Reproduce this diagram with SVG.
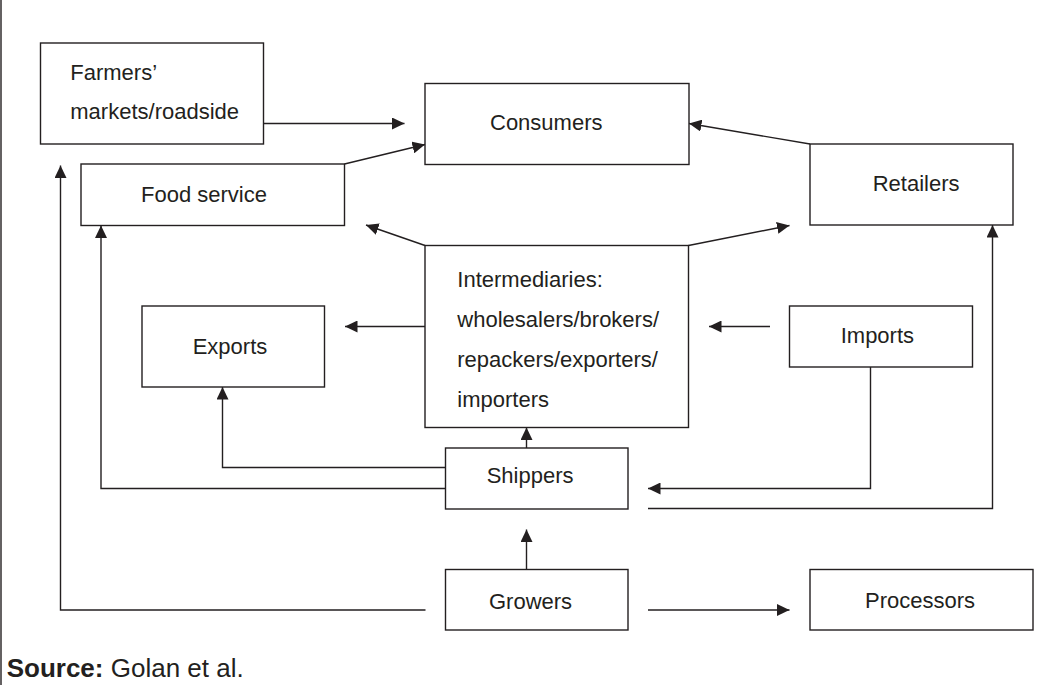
<svg xmlns="http://www.w3.org/2000/svg" width="1047" height="685" viewBox="0 0 1047 685">
<defs>
<marker id="ah" markerUnits="userSpaceOnUse" markerWidth="13" markerHeight="12" refX="12.5" refY="6" orient="auto">
<path d="M0,0 L12.5,6 L0,12 z" fill="#231f20"/>
</marker>
<style>
.box{fill:#fff;stroke:#231f20;stroke-width:1.4}
.lbl{font-family:"Liberation Sans",Arial,sans-serif;font-size:22px;fill:#231f20}
.src{font-family:"Liberation Sans",Arial,sans-serif;font-size:26px;fill:#231f20}
.con path{fill:none;stroke:#231f20;stroke-width:1.4}
.arr{marker-end:url(#ah)}
</style>
</defs>
<rect width="1047" height="685" fill="#fff"/>
<line x1="1" y1="0" x2="1" y2="685" stroke="#231f20" stroke-width="1.4"/>

<g id="farmers">
<rect class="box" x="40.5" y="43" width="223" height="101"/>
<text class="lbl" x="70.3" y="80">Farmers’</text>
<text class="lbl" x="70.3" y="119.3">markets/roadside</text>
</g>
<g id="consumers">
<rect class="box" x="425" y="83.5" width="264" height="81"/>
<text class="lbl" x="490" y="130">Consumers</text>
</g>
<g id="foodservice">
<rect class="box" x="81" y="164" width="263.5" height="61.5"/>
<text class="lbl" x="141" y="202">Food service</text>
</g>
<g id="retailers">
<rect class="box" x="810" y="144" width="203" height="81"/>
<text class="lbl" x="872.7" y="190.7">Retailers</text>
</g>
<g id="intermediaries">
<rect class="box" x="425" y="245.5" width="263.5" height="182"/>
<text class="lbl" x="457.3" y="287.3">Intermediaries:</text>
<text class="lbl" x="457.3" y="327.3">wholesalers/brokers/</text>
<text class="lbl" x="457.3" y="367.3">repackers/exporters/</text>
<text class="lbl" x="457.3" y="406.7">importers</text>
</g>
<g id="exports">
<rect class="box" x="142" y="306" width="182.5" height="81"/>
<text class="lbl" x="192.7" y="354.3">Exports</text>
</g>
<g id="imports">
<rect class="box" x="789.5" y="306" width="183" height="61"/>
<text class="lbl" x="840.7" y="343.3">Imports</text>
</g>
<g id="shippers">
<rect class="box" x="445.5" y="448" width="182.5" height="61"/>
<text class="lbl" x="486.7" y="483.3">Shippers</text>
</g>
<g id="growers">
<rect class="box" x="445.5" y="569.5" width="182.5" height="60.5"/>
<text class="lbl" x="489" y="609">Growers</text>
</g>
<g id="processors">
<rect class="box" x="810" y="569.5" width="223" height="60.5"/>
<text class="lbl" x="865" y="607.7">Processors</text>
</g>

<g id="connectors" class="con">
<path class="arr" d="M263.5,123.5 H404.5"/>
<path class="arr" d="M344.5,164 L425,144.5"/>
<path class="arr" d="M810,144 L689,123.5"/>
<path class="arr" d="M425,245.5 L366,225"/>
<path class="arr" d="M688.5,245.5 L789.5,225.5"/>
<path class="arr" d="M425,326.5 H345"/>
<path class="arr" d="M770,326.5 H709"/>
<path class="arr" d="M526.5,448 V427.5"/>
<path class="arr" d="M445.5,467.5 H222.5 V387"/>
<path class="arr" d="M445.5,488.5 H101 V225.5"/>
<path class="arr" d="M870.5,367 V488.5 H648"/>
<path class="arr" d="M648,508.5 H992.5 V225"/>
<path class="arr" d="M526.5,569.5 V529.5"/>
<path class="arr" d="M425.5,610 H60.5 V165.5"/>
<path class="arr" d="M648,610 H789.5"/>
</g>

<text class="src" x="6.7" y="677"><tspan font-weight="bold">Source:</tspan> Golan et al.</text>
</svg>
